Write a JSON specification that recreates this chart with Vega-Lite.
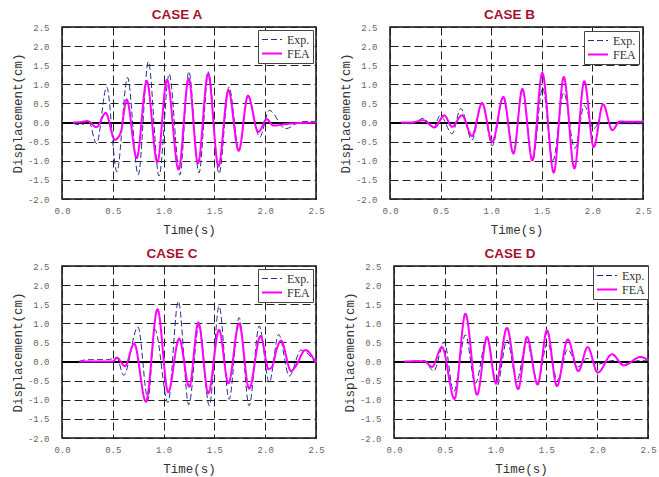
{
  "$schema": "https://vega.github.io/schema/vega-lite/v6.json",
  "background": "white",
  "padding": {"left": 10, "top": 6, "right": 5, "bottom": 5},
  "datasets": {
    "caseA": [
      {"t": 0.11, "d": -0.02, "s": "Exp."}, {"t": 0.15, "d": -0.05, "s": "Exp."}, {"t": 0.2, "d": -0.05, "s": "Exp."},
      {"t": 0.26, "d": 0.05, "s": "Exp."}, {"t": 0.34, "d": -0.55, "s": "Exp."}, {"t": 0.44, "d": 0.93, "s": "Exp."},
      {"t": 0.54, "d": -1.29, "s": "Exp."}, {"t": 0.645, "d": 1.18, "s": "Exp."}, {"t": 0.75, "d": -1.37, "s": "Exp."},
      {"t": 0.85, "d": 1.59, "s": "Exp."}, {"t": 0.955, "d": -1.4, "s": "Exp."}, {"t": 1.055, "d": 1.27, "s": "Exp."},
      {"t": 1.16, "d": -1.37, "s": "Exp."}, {"t": 1.248, "d": 1.34, "s": "Exp."}, {"t": 1.348, "d": -1.32, "s": "Exp."},
      {"t": 1.442, "d": 1.32, "s": "Exp."}, {"t": 1.546, "d": -1.34, "s": "Exp."}, {"t": 1.644, "d": 0.93, "s": "Exp."},
      {"t": 1.742, "d": -0.73, "s": "Exp."}, {"t": 1.83, "d": 0.72, "s": "Exp."}, {"t": 1.946, "d": -0.38, "s": "Exp."},
      {"t": 2.04, "d": 0.32, "s": "Exp."}, {"t": 2.2, "d": -0.16, "s": "Exp."}, {"t": 2.35, "d": 0.02, "s": "Exp."},
      {"t": 2.42, "d": 0.03, "s": "Exp."}, {"t": 2.5, "d": 0.03, "s": "Exp."},
      {"t": 0.11, "d": 0, "s": "FEA"}, {"t": 0.2, "d": 0.02, "s": "FEA"}, {"t": 0.25, "d": 0.04, "s": "FEA"},
      {"t": 0.34, "d": -0.12, "s": "FEA"}, {"t": 0.43, "d": 0.25, "s": "FEA"}, {"t": 0.52, "d": -0.45, "s": "FEA"},
      {"t": 0.575, "d": -0.28, "s": "FEA"}, {"t": 0.637, "d": 0.6, "s": "FEA"}, {"t": 0.735, "d": -0.93, "s": "FEA"},
      {"t": 0.834, "d": 1.09, "s": "FEA"}, {"t": 0.938, "d": -1.04, "s": "FEA"}, {"t": 1.033, "d": 1.12, "s": "FEA"},
      {"t": 1.148, "d": -1.23, "s": "FEA"}, {"t": 1.247, "d": 1.15, "s": "FEA"}, {"t": 1.339, "d": -1.07, "s": "FEA"},
      {"t": 1.438, "d": 1.28, "s": "FEA"}, {"t": 1.54, "d": -1.15, "s": "FEA"}, {"t": 1.638, "d": 0.85, "s": "FEA"},
      {"t": 1.739, "d": -0.74, "s": "FEA"}, {"t": 1.83, "d": 0.7, "s": "FEA"}, {"t": 1.932, "d": -0.25, "s": "FEA"},
      {"t": 2.015, "d": 0.09, "s": "FEA"}, {"t": 2.08, "d": -0.08, "s": "FEA"}, {"t": 2.2, "d": -0.04, "s": "FEA"},
      {"t": 2.35, "d": -0.01, "s": "FEA"}, {"t": 2.5, "d": 0, "s": "FEA"}
    ],
    "caseB": [
      {"t": 0.11, "d": 0, "s": "Exp."}, {"t": 0.215, "d": -0.03, "s": "Exp."}, {"t": 0.33, "d": 0.11, "s": "Exp."},
      {"t": 0.43, "d": -0.13, "s": "Exp."}, {"t": 0.497, "d": 0.19, "s": "Exp."}, {"t": 0.613, "d": -0.29, "s": "Exp."},
      {"t": 0.7, "d": 0.37, "s": "Exp."}, {"t": 0.81, "d": -0.46, "s": "Exp."}, {"t": 0.91, "d": 0.51, "s": "Exp."},
      {"t": 1.01, "d": -0.61, "s": "Exp."}, {"t": 1.12, "d": 0.67, "s": "Exp."}, {"t": 1.22, "d": -0.8, "s": "Exp."},
      {"t": 1.308, "d": 0.88, "s": "Exp."}, {"t": 1.41, "d": -1.0, "s": "Exp."}, {"t": 1.508, "d": 0.91, "s": "Exp."},
      {"t": 1.61, "d": -0.99, "s": "Exp."}, {"t": 1.717, "d": 0.78, "s": "Exp."}, {"t": 1.826, "d": -0.68, "s": "Exp."},
      {"t": 1.92, "d": 0.45, "s": "Exp."}, {"t": 2.013, "d": -0.16, "s": "Exp."}, {"t": 2.07, "d": 0.0, "s": "Exp."},
      {"t": 2.2, "d": -0.01, "s": "Exp."}, {"t": 2.3, "d": -0.03, "s": "Exp."}, {"t": 2.5, "d": -0.03, "s": "Exp."},
      {"t": 0.11, "d": 0, "s": "FEA"}, {"t": 0.2, "d": 0.0, "s": "FEA"}, {"t": 0.33, "d": 0.06, "s": "FEA"},
      {"t": 0.44, "d": -0.13, "s": "FEA"}, {"t": 0.536, "d": 0.19, "s": "FEA"}, {"t": 0.613, "d": -0.11, "s": "FEA"},
      {"t": 0.712, "d": 0.19, "s": "FEA"}, {"t": 0.81, "d": -0.35, "s": "FEA"}, {"t": 0.91, "d": 0.51, "s": "FEA"},
      {"t": 1.01, "d": -0.51, "s": "FEA"}, {"t": 1.12, "d": 0.67, "s": "FEA"}, {"t": 1.22, "d": -0.81, "s": "FEA"},
      {"t": 1.308, "d": 0.88, "s": "FEA"}, {"t": 1.406, "d": -0.99, "s": "FEA"}, {"t": 1.505, "d": 1.3, "s": "FEA"},
      {"t": 1.618, "d": -1.31, "s": "FEA"}, {"t": 1.717, "d": 1.19, "s": "FEA"}, {"t": 1.822, "d": -1.2, "s": "FEA"},
      {"t": 1.92, "d": 1.08, "s": "FEA"}, {"t": 2.013, "d": -0.64, "s": "FEA"}, {"t": 2.105, "d": 0.48, "s": "FEA"},
      {"t": 2.197, "d": -0.2, "s": "FEA"}, {"t": 2.27, "d": 0.03, "s": "FEA"}, {"t": 2.35, "d": 0.02, "s": "FEA"},
      {"t": 2.5, "d": 0.02, "s": "FEA"}
    ],
    "caseC": [
      {"t": 0.17, "d": 0, "s": "Exp."}, {"t": 0.22, "d": 0.04, "s": "Exp."}, {"t": 0.3, "d": 0.05, "s": "Exp."},
      {"t": 0.45, "d": 0.05, "s": "Exp."}, {"t": 0.54, "d": 0.1, "s": "Exp."}, {"t": 0.607, "d": -0.36, "s": "Exp."},
      {"t": 0.748, "d": 0.91, "s": "Exp."}, {"t": 0.846, "d": -1.0, "s": "Exp."}, {"t": 0.915, "d": 0.84, "s": "Exp."},
      {"t": 1.043, "d": -1.07, "s": "Exp."}, {"t": 1.145, "d": 1.58, "s": "Exp."}, {"t": 1.248, "d": -1.13, "s": "Exp."},
      {"t": 1.349, "d": 0.97, "s": "Exp."}, {"t": 1.45, "d": -1.16, "s": "Exp."}, {"t": 1.546, "d": 1.45, "s": "Exp."},
      {"t": 1.645, "d": -0.99, "s": "Exp."}, {"t": 1.743, "d": 1.15, "s": "Exp."}, {"t": 1.842, "d": -1.16, "s": "Exp."},
      {"t": 1.941, "d": 0.93, "s": "Exp."}, {"t": 2.04, "d": -0.55, "s": "Exp."}, {"t": 2.132, "d": 0.71, "s": "Exp."},
      {"t": 2.237, "d": -0.38, "s": "Exp."}, {"t": 2.352, "d": 0.3, "s": "Exp."}, {"t": 2.5, "d": -0.06, "s": "Exp."},
      {"t": 0.17, "d": 0, "s": "FEA"}, {"t": 0.3, "d": 0, "s": "FEA"}, {"t": 0.5, "d": 0.0, "s": "FEA"},
      {"t": 0.541, "d": 0.1, "s": "FEA"}, {"t": 0.62, "d": -0.12, "s": "FEA"}, {"t": 0.71, "d": 0.47, "s": "FEA"},
      {"t": 0.826, "d": -1.05, "s": "FEA"}, {"t": 0.94, "d": 1.37, "s": "FEA"}, {"t": 1.045, "d": -0.8, "s": "FEA"},
      {"t": 1.153, "d": 0.6, "s": "FEA"}, {"t": 1.253, "d": -0.66, "s": "FEA"}, {"t": 1.342, "d": 1.02, "s": "FEA"},
      {"t": 1.44, "d": -0.83, "s": "FEA"}, {"t": 1.546, "d": 0.83, "s": "FEA"}, {"t": 1.638, "d": -0.57, "s": "FEA"},
      {"t": 1.743, "d": 1.0, "s": "FEA"}, {"t": 1.842, "d": -0.71, "s": "FEA"}, {"t": 1.954, "d": 0.67, "s": "FEA"},
      {"t": 2.035, "d": -0.2, "s": "FEA"}, {"t": 2.07, "d": -0.12, "s": "FEA"}, {"t": 2.11, "d": 0.3, "s": "FEA"},
      {"t": 2.155, "d": 0.55, "s": "FEA"}, {"t": 2.255, "d": -0.25, "s": "FEA"}, {"t": 2.3, "d": -0.12, "s": "FEA"},
      {"t": 2.395, "d": 0.3, "s": "FEA"}, {"t": 2.5, "d": -0.04, "s": "FEA"}
    ],
    "caseD": [
      {"t": 0.1, "d": 0, "s": "Exp."}, {"t": 0.3, "d": 0.02, "s": "Exp."}, {"t": 0.39, "d": -0.25, "s": "Exp."},
      {"t": 0.495, "d": 0.51, "s": "Exp."}, {"t": 0.588, "d": -0.79, "s": "Exp."}, {"t": 0.703, "d": 0.7, "s": "Exp."},
      {"t": 0.8, "d": -0.57, "s": "Exp."}, {"t": 0.915, "d": 0.62, "s": "Exp."}, {"t": 1.014, "d": -0.64, "s": "Exp."},
      {"t": 1.112, "d": 0.56, "s": "Exp."}, {"t": 1.21, "d": -0.5, "s": "Exp."}, {"t": 1.305, "d": 0.53, "s": "Exp."},
      {"t": 1.414, "d": -0.53, "s": "Exp."}, {"t": 1.51, "d": 0.5, "s": "Exp."}, {"t": 1.608, "d": -0.49, "s": "Exp."},
      {"t": 1.71, "d": 0.32, "s": "Exp."}, {"t": 1.81, "d": -0.14, "s": "Exp."}, {"t": 1.9, "d": 0.08, "s": "Exp."},
      {"t": 2.005, "d": -0.07, "s": "Exp."}, {"t": 2.1, "d": 0.0, "s": "Exp."}, {"t": 2.17, "d": 0.03, "s": "Exp."},
      {"t": 2.28, "d": -0.07, "s": "Exp."}, {"t": 2.4, "d": 0.02, "s": "Exp."}, {"t": 2.5, "d": 0.02, "s": "Exp."},
      {"t": 0.1, "d": 0, "s": "FEA"}, {"t": 0.3, "d": 0.01, "s": "FEA"}, {"t": 0.374, "d": -0.14, "s": "FEA"},
      {"t": 0.472, "d": 0.38, "s": "FEA"}, {"t": 0.595, "d": -0.98, "s": "FEA"}, {"t": 0.703, "d": 1.25, "s": "FEA"},
      {"t": 0.818, "d": -0.87, "s": "FEA"}, {"t": 0.915, "d": 0.64, "s": "FEA"}, {"t": 1.004, "d": -0.57, "s": "FEA"},
      {"t": 1.112, "d": 0.88, "s": "FEA"}, {"t": 1.222, "d": -0.72, "s": "FEA"}, {"t": 1.309, "d": 0.64, "s": "FEA"},
      {"t": 1.414, "d": -0.6, "s": "FEA"}, {"t": 1.506, "d": 0.82, "s": "FEA"}, {"t": 1.604, "d": -0.64, "s": "FEA"},
      {"t": 1.71, "d": 0.58, "s": "FEA"}, {"t": 1.815, "d": -0.25, "s": "FEA"}, {"t": 1.906, "d": 0.38, "s": "FEA"},
      {"t": 2.005, "d": -0.29, "s": "FEA"}, {"t": 2.146, "d": 0.19, "s": "FEA"}, {"t": 2.261, "d": -0.1, "s": "FEA"},
      {"t": 2.425, "d": 0.12, "s": "FEA"}, {"t": 2.5, "d": 0.04, "s": "FEA"}
    ]
  },
  "config": {
    "view": {"stroke": "#111", "strokeWidth": 1.5},
    "axis": {
      "grid": true, "gridColor": "#222", "gridDash": [8, 4], "gridWidth": 1,
      "domain": false, "ticks": false, "tickSize": 0, "labelOverlap": false, "labelFlush": false,
      "labelFont": "Liberation Mono", "labelFontSize": 9, "labelColor": "#666",
      "titleFont": "Liberation Mono", "titleFontSize": 12.5, "titleFontWeight": "normal", "titleColor": "#333"
    },
    "axisX": {"labelPadding": 7, "titlePadding": 8},
    "axisY": {"labelPadding": 13, "titlePadding": 3},
    "title": {"font": "Liberation Sans", "fontSize": 13.5, "fontWeight": "bold", "color": "#a5122e", "anchor": "middle", "offset": 2, "baseline": "alphabetic"},
    "legend": {
      "orient": "top-right", "offset": 3, "padding": 3, "strokeColor": "#444", "fillColor": "#ffffff",
      "labelFont": "Liberation Serif", "labelFontSize": 12, "labelColor": "#333",
      "symbolType": "stroke", "symbolStrokeWidth": 1.6, "symbolSize": 400, "clipHeight": 13, "rowPadding": 1, "labelOffset": 4
    }
  },
  "resolve": {
    "scale": {"color": "independent", "strokeDash": "independent", "strokeWidth": "independent"},
    "legend": {"color": "independent", "strokeDash": "independent"}
  },
  "spacing": 8,
  "vconcat": [
    {
      "spacing": 74,
      "bounds": "flush",
      "resolve": {
        "scale": {"color": "independent", "strokeDash": "independent", "strokeWidth": "independent"},
        "legend": {"color": "independent", "strokeDash": "independent"}
      },
      "hconcat": [
        {
          "width": 254, "height": 172,
          "title": {"text": "CASE A", "dx": -12},
          "data": {"name": "caseA"},
          "layer": [
            {
              "mark": {"type": "rule", "color": "#000", "strokeWidth": 1.2},
              "encoding": {"y": {"datum": 0, "type": "quantitative", "title": "Displacement(cm)", "scale": {"domain": [-2, 2.5], "nice": false}, "axis": {"values": [-2, -1.5, -1, -0.5, 0, 0.5, 1, 1.5, 2, 2.5], "labelExpr": "replace(format(datum.value, '.1f'), '−', '-')"}}}
            },
            {
              "mark": {"type": "line", "interpolate": "monotone"},
              "encoding": {
                "x": {"field": "t", "type": "quantitative", "title": "Time(s)", "scale": {"domain": [0, 2.5], "nice": false}, "axis": {"values": [0, 0.5, 1, 1.5, 2, 2.5], "format": ".1f"}},
                "y": {"field": "d", "type": "quantitative", "title": "Displacement(cm)", "scale": {"domain": [-2, 2.5], "nice": false}, "axis": {"values": [-2, -1.5, -1, -0.5, 0, 0.5, 1, 1.5, 2, 2.5], "labelExpr": "replace(format(datum.value, '.1f'), '−', '-')"}},
                "color": {"field": "s", "type": "nominal", "title": null, "legend": {"offset": 3}, "scale": {"domain": ["Exp.", "FEA"], "range": ["#22308a", "#ff00ff"]}},
                "strokeDash": {"field": "s", "type": "nominal", "title": null, "legend": {"offset": 3}, "scale": {"domain": ["Exp.", "FEA"], "range": [[6, 3], [1, 0]]}},
                "strokeWidth": {"field": "s", "type": "nominal", "legend": null, "scale": {"domain": ["Exp.", "FEA"], "range": [1, 2]}}
              }
            }
          ]
        },
        {
          "width": 253, "height": 172,
          "title": {"text": "CASE B", "dx": -7},
          "data": {"name": "caseB"},
          "layer": [
            {
              "mark": {"type": "rule", "color": "#000", "strokeWidth": 1.2},
              "encoding": {"y": {"datum": 0, "type": "quantitative", "title": "Displacement(cm)", "scale": {"domain": [-2, 2.5], "nice": false}, "axis": {"values": [-2, -1.5, -1, -0.5, 0, 0.5, 1, 1.5, 2, 2.5], "labelExpr": "replace(format(datum.value, '.1f'), '−', '-')"}}}
            },
            {
              "mark": {"type": "line", "interpolate": "monotone"},
              "encoding": {
                "x": {"field": "t", "type": "quantitative", "title": "Time(s)", "scale": {"domain": [0, 2.5], "nice": false}, "axis": {"values": [0, 0.5, 1, 1.5, 2, 2.5], "format": ".1f"}},
                "y": {"field": "d", "type": "quantitative", "title": "Displacement(cm)", "scale": {"domain": [-2, 2.5], "nice": false}, "axis": {"values": [-2, -1.5, -1, -0.5, 0, 0.5, 1, 1.5, 2, 2.5], "labelExpr": "replace(format(datum.value, '.1f'), '−', '-')"}},
                "color": {"field": "s", "type": "nominal", "title": null, "legend": {"offset": 4}, "scale": {"domain": ["Exp.", "FEA"], "range": ["#22308a", "#ff00ff"]}},
                "strokeDash": {"field": "s", "type": "nominal", "title": null, "legend": {"offset": 4}, "scale": {"domain": ["Exp.", "FEA"], "range": [[6, 3], [1, 0]]}},
                "strokeWidth": {"field": "s", "type": "nominal", "legend": null, "scale": {"domain": ["Exp.", "FEA"], "range": [1, 2]}}
              }
            }
          ]
        }
      ]
    },
    {
      "spacing": 78,
      "bounds": "flush",
      "resolve": {
        "scale": {"color": "independent", "strokeDash": "independent", "strokeWidth": "independent"},
        "legend": {"color": "independent", "strokeDash": "independent"}
      },
      "hconcat": [
        {
          "width": 254, "height": 172,
          "title": {"text": "CASE C", "dx": -17},
          "data": {"name": "caseC"},
          "layer": [
            {
              "mark": {"type": "rule", "color": "#000", "strokeWidth": 1.2},
              "encoding": {"y": {"datum": 0, "type": "quantitative", "title": "Displacement(cm)", "scale": {"domain": [-2, 2.5], "nice": false}, "axis": {"values": [-2, -1.5, -1, -0.5, 0, 0.5, 1, 1.5, 2, 2.5], "labelExpr": "replace(format(datum.value, '.1f'), '−', '-')"}}}
            },
            {
              "mark": {"type": "line", "interpolate": "monotone"},
              "encoding": {
                "x": {"field": "t", "type": "quantitative", "title": "Time(s)", "scale": {"domain": [0, 2.5], "nice": false}, "axis": {"values": [0, 0.5, 1, 1.5, 2, 2.5], "format": ".1f"}},
                "y": {"field": "d", "type": "quantitative", "title": "Displacement(cm)", "scale": {"domain": [-2, 2.5], "nice": false}, "axis": {"values": [-2, -1.5, -1, -0.5, 0, 0.5, 1, 1.5, 2, 2.5], "labelExpr": "replace(format(datum.value, '.1f'), '−', '-')"}},
                "color": {"field": "s", "type": "nominal", "title": null, "legend": {"offset": 3}, "scale": {"domain": ["Exp.", "FEA"], "range": ["#22308a", "#ff00ff"]}},
                "strokeDash": {"field": "s", "type": "nominal", "title": null, "legend": {"offset": 3}, "scale": {"domain": ["Exp.", "FEA"], "range": [[6, 3], [1, 0]]}},
                "strokeWidth": {"field": "s", "type": "nominal", "legend": null, "scale": {"domain": ["Exp.", "FEA"], "range": [1, 2]}}
              }
            }
          ]
        },
        {
          "width": 254, "height": 172,
          "title": {"text": "CASE D", "dx": -11},
          "data": {"name": "caseD"},
          "layer": [
            {
              "mark": {"type": "rule", "color": "#000", "strokeWidth": 1.2},
              "encoding": {"y": {"datum": 0, "type": "quantitative", "title": "Displacement(cm)", "scale": {"domain": [-2, 2.5], "nice": false}, "axis": {"values": [-2, -1.5, -1, -0.5, 0, 0.5, 1, 1.5, 2, 2.5], "labelExpr": "replace(format(datum.value, '.1f'), '−', '-')"}}}
            },
            {
              "mark": {"type": "line", "interpolate": "monotone"},
              "encoding": {
                "x": {"field": "t", "type": "quantitative", "title": "Time(s)", "scale": {"domain": [0, 2.5], "nice": false}, "axis": {"values": [0, 0.5, 1, 1.5, 2, 2.5], "format": ".1f"}},
                "y": {"field": "d", "type": "quantitative", "title": "Displacement(cm)", "scale": {"domain": [-2, 2.5], "nice": false}, "axis": {"values": [-2, -1.5, -1, -0.5, 0, 0.5, 1, 1.5, 2, 2.5], "labelExpr": "replace(format(datum.value, '.1f'), '−', '-')"}},
                "color": {"field": "s", "type": "nominal", "title": null, "legend": {"offset": 0, "symbolStrokeWidth": 2.5}, "scale": {"domain": ["Exp.", "FEA"], "range": ["#1a237e", "#ff00ff"]}},
                "strokeDash": {"field": "s", "type": "nominal", "title": null, "legend": {"offset": 0, "symbolStrokeWidth": 2.5}, "scale": {"domain": ["Exp.", "FEA"], "range": [[6, 3], [1, 0]]}},
                "strokeWidth": {"field": "s", "type": "nominal", "legend": null, "scale": {"domain": ["Exp.", "FEA"], "range": [1, 2]}}
              }
            }
          ]
        }
      ]
    }
  ]
}
